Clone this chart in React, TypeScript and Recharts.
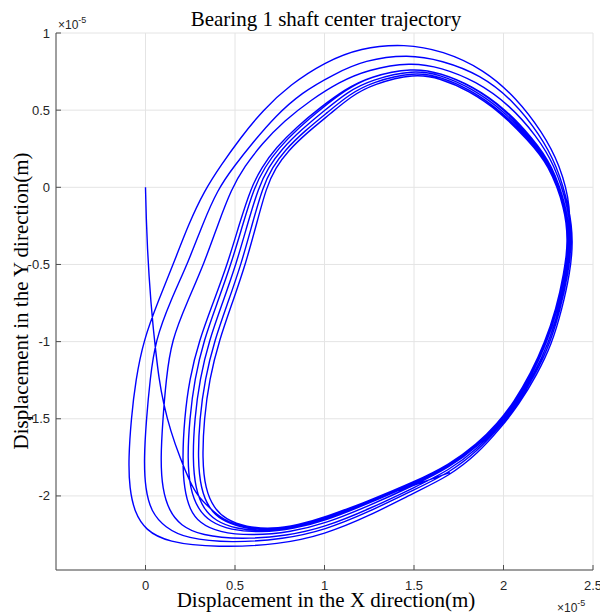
import React from 'react';
import { LineChart, Line, XAxis, YAxis, CartesianGrid } from 'recharts';

// Axis settings (values in units of 1e-5 m)
const xTicks = [0, 0.5, 1, 1.5, 2, 2.5];
const yTicks = [-2, -1.5, -1, -0.5, 0, 0.5, 1];
const xDomain: [number, number] = [-0.5, 2.5];
const yDomain: [number, number] = [-2.48, 1];

// Trajectory, in drawing order (counter-clockwise whirl)
const startPath = [
  [0, 0], [0.004, -0.2], [0.011, -0.4], [0.02, -0.58], [0.03, -0.74], [0.042, -0.9], [0.056, -1.05],
  [0.075, -1.24], [0.1, -1.4], [0.14, -1.58], [0.195, -1.76], [0.245, -1.9], [0.29, -2.0], [0.36, -2.08],
  [0.43, -2.152], [0.54, -2.205], [0.7, -2.217], [0.85, -2.19], [1.0, -2.145], [1.25, -2.03], [1.5, -1.91],
  [1.698, -1.797], [1.855, -1.66], [1.963, -1.534], [2.058, -1.393], [2.153, -1.205], [2.231, -1.005],
  [2.293, -0.793], [2.338, -0.56], [2.36, -0.353],
];
const loop1 = [
  [2.38, -0.14], [2.315, 0.149], [2.215, 0.36], [2.075, 0.575], [1.89, 0.765], [1.66, 0.885], [1.45, 0.93],
  [1.2, 0.905], [1.0, 0.81], [0.81, 0.667], [0.654, 0.498], [0.53, 0.32], [0.42, 0.14], [0.33, -0.02], [0.24, -0.24],
  [0.162, -0.479], [0.073, -0.731], [-0.011, -0.99], [-0.055, -1.25], [-0.08, -1.5], [-0.095, -1.76], [-0.09, -1.95],
  [-0.06, -2.11], [0.0, -2.22], [0.12, -2.3], [0.4, -2.335], [0.75, -2.315], [1.0, -2.25], [1.25, -2.13], [1.5, -1.98],
  [1.698, -1.87], [1.855, -1.727], [1.986, -1.557], [2.085, -1.41], [2.186, -1.217], [2.27, -1.016], [2.326, -0.793],
  [2.371, -0.56], [2.39, -0.353],
];
const loop2 = [
  [2.37, -0.14], [2.297, 0.149], [2.2, 0.344], [2.062, 0.554], [1.87, 0.731], [1.655, 0.822],
  [1.469, 0.862], [1.223, 0.825], [1.051, 0.732], [0.871, 0.613], [0.724, 0.459], [0.604, 0.296], [0.495, 0.137],
  [0.402, -0.015], [0.319, -0.239], [0.24, -0.482], [0.14, -0.734], [0.055, -0.99], [0.025, -1.248], [0.005, -1.502],
  [-0.009, -1.761], [-0.001, -1.955], [0.032, -2.104], [0.109, -2.204], [0.227, -2.276], [0.476, -2.305],
  [0.776, -2.28], [1.0, -2.222], [1.25, -2.103], [1.5, -1.96], [1.698, -1.85], [1.855, -1.709], [1.98, -1.551],
  [2.078, -1.406], [2.177, -1.214], [2.26, -1.013], [2.317, -0.793], [2.362, -0.56], [2.382, -0.353],
];
const loop3 = [
  [2.364, -0.14], [2.285, 0.149], [2.184, 0.333], [2.037, 0.531], [1.844, 0.69], [1.652, 0.776],
  [1.483, 0.812], [1.24, 0.762], [1.083, 0.683], [0.924, 0.566], [0.774, 0.43], [0.65, 0.282], [0.553, 0.135],
  [0.48, -0.01], [0.405, -0.239], [0.33, -0.486], [0.235, -0.738], [0.145, -0.99], [0.115, -1.247], [0.097, -1.502],
  [0.084, -1.761], [0.094, -1.955], [0.132, -2.097], [0.195, -2.191], [0.311, -2.257], [0.535, -2.282],
  [0.794, -2.258], [1.0, -2.203], [1.25, -2.085], [1.5, -1.946], [1.698, -1.833], [1.855, -1.694], [1.975, -1.546],
  [2.072, -1.402], [2.17, -1.212], [2.251, -1.011], [2.31, -0.793], [2.355, -0.56], [2.375, -0.353],
];
const loop4 = [
  [2.356, -0.14], [2.271, 0.149], [2.162, 0.318], [2.012, 0.508], [1.824, 0.659], [1.649, 0.741],
  [1.493, 0.776], [1.252, 0.718], [1.115, 0.635], [0.977, 0.518], [0.844, 0.391], [0.728, 0.256], [0.65, 0.131],
  [0.589, -0.003], [0.524, -0.239], [0.46, -0.49], [0.38, -0.742], [0.3, -0.99], [0.245, -1.244], [0.217, -1.502],
  [0.206, -1.761], [0.216, -1.955], [0.247, -2.089], [0.301, -2.175], [0.407, -2.236], [0.597, -2.258],
  [0.814, -2.233], [1.0, -2.181], [1.25, -2.064], [1.5, -1.931], [1.698, -1.816], [1.855, -1.679], [1.97, -1.541],
  [2.066, -1.398], [2.162, -1.209], [2.242, -1.008], [2.302, -0.793], [2.347, -0.56], [2.368, -0.353],
];
const loop5 = [
  [2.352, -0.14], [2.264, 0.149], [2.156, 0.314], [2.008, 0.505], [1.823, 0.657], [1.649, 0.741],
  [1.493, 0.775], [1.252, 0.718], [1.118, 0.631], [0.985, 0.512], [0.855, 0.385], [0.742, 0.252], [0.666, 0.13],
  [0.607, -0.002], [0.544, -0.239], [0.48, -0.491], [0.403, -0.743], [0.326, -0.99], [0.274, -1.244], [0.246, -1.502],
  [0.234, -1.761], [0.249, -1.955], [0.293, -2.086], [0.36, -2.167], [0.472, -2.221], [0.648, -2.238],
  [0.831, -2.212], [1.0, -2.163], [1.25, -2.047], [1.5, -1.921], [1.698, -1.808], [1.855, -1.672], [1.968, -1.539],
  [2.063, -1.396], [2.158, -1.208], [2.238, -1.007], [2.298, -0.793], [2.343, -0.56], [2.365, -0.353],
];
const loop6 = [
  [2.35, -0.14], [2.26, 0.149], [2.15, 0.31], [2.0, 0.498], [1.816, 0.647], [1.648, 0.729],
  [1.497, 0.762], [1.26, 0.697], [1.13, 0.62], [1.0, 0.498], [0.872, 0.375], [0.76, 0.246], [0.687, 0.129],
  [0.631, 0.0], [0.57, -0.239], [0.508, -0.492], [0.432, -0.744], [0.356, -0.99], [0.303, -1.243], [0.274, -1.502],
  [0.263, -1.761], [0.279, -1.955], [0.324, -2.084], [0.391, -2.162], [0.503, -2.214], [0.67, -2.23],
  [0.838, -2.203], [1.0, -2.155], [1.25, -2.04], [1.5, -1.916], [1.698, -1.803], [1.855, -1.667], [1.966, -1.537],
  [2.061, -1.395], [2.156, -1.207], [2.235, -1.006], [2.296, -0.793], [2.341, -0.56], [2.363, -0.353],
];
const loop7 = [
  [2.348, -0.14], [2.256, 0.149], [2.144, 0.306], [1.992, 0.491], [1.809, 0.637], [1.647, 0.717],
  [1.501, 0.749], [1.265, 0.682], [1.14, 0.603], [1.015, 0.484], [0.889, 0.365], [0.778, 0.24], [0.708, 0.128],
  [0.655, 0.002], [0.596, -0.239], [0.536, -0.493], [0.461, -0.745], [0.386, -0.99], [0.332, -1.242], [0.302, -1.502],
  [0.292, -1.761], [0.309, -1.955], [0.355, -2.082], [0.422, -2.157], [0.534, -2.207], [0.692, -2.222],
  [0.845, -2.194], [1.0, -2.147], [1.25, -2.033], [1.5, -1.911], [1.698, -1.798], [1.855, -1.662], [1.964, -1.535],
  [2.059, -1.394], [2.154, -1.206], [2.232, -1.005], [2.294, -0.793], [2.339, -0.56], [2.361, -0.353],
];
const loop8 = [
  [2.345, -0.14], [2.252, 0.149], [2.138, 0.303], [1.985, 0.486], [1.803, 0.629], [1.646, 0.706],
  [1.504, 0.738], [1.27, 0.668], [1.149, 0.59], [1.029, 0.473], [0.905, 0.357], [0.795, 0.235], [0.727, 0.127],
  [0.676, 0.003], [0.62, -0.239], [0.56, -0.494], [0.486, -0.746], [0.412, -0.99], [0.357, -1.242], [0.327, -1.502],
  [0.317, -1.761], [0.334, -1.955], [0.382, -2.08], [0.45, -2.153], [0.56, -2.201], [0.71, -2.215],
  [0.851, -2.187], [1.0, -2.141], [1.25, -2.027], [1.5, -1.932], [1.7, -1.848],
];

const trajectory = [startPath, loop1, loop2, loop3, loop4, loop5, loop6, loop7, loop8]
  .flat()
  .map(([x, y]) => ({ x, y }));

const AXIS = '#4d4d4d';
const TXT = '#262626';
const SANS = '"Liberation Sans", Arial, Helvetica, sans-serif';
const SERIF = '"Liberation Serif", "Times New Roman", serif';

const fmt = (v: number) => String(v);

const BottomTick = (props: any) => {
  const { x, y, payload } = props;
  return (
    <g>
      <line x1={x} y1={y} x2={x} y2={y - 5} stroke={AXIS} strokeWidth={1} />
      <text x={x} y={y + 20} textAnchor="middle" fontSize={13} fill={TXT} fontFamily={SANS}>
        {fmt(payload.value)}
      </text>
    </g>
  );
};
const TopTick = (props: any) => {
  const { x, y } = props;
  return <line x1={x} y1={y} x2={x} y2={y + 5} stroke={AXIS} strokeWidth={1} />;
};
const LeftTick = (props: any) => {
  const { x, y, payload } = props;
  return (
    <g>
      <line x1={x} y1={y} x2={x + 5} y2={y} stroke={AXIS} strokeWidth={1} />
      <text x={x - 6} y={y + 4.5} textAnchor="end" fontSize={13} fill={TXT} fontFamily={SANS}>
        {fmt(payload.value)}
      </text>
    </g>
  );
};
const RightTick = (props: any) => {
  const { x, y } = props;
  return <line x1={x} y1={y} x2={x - 5} y2={y} stroke={AXIS} strokeWidth={1} />;
};

export default function App() {
  return (
    <div style={{ position: 'absolute', left: 0, top: 0, width: 600, height: 614, background: '#fff' }}>
      <LineChart
        width={600}
        height={614}
        data={trajectory}
        margin={{ top: 33, right: 7, bottom: 14, left: 16 }}
      >
        <CartesianGrid stroke="#e4e4e4" strokeWidth={1} />
        <XAxis
          dataKey="x"
          type="number"
          domain={xDomain}
          ticks={xTicks}
          allowDataOverflow
          interval={0}
          height={30}
          tickSize={0}
          tickMargin={0}
          tickLine={false}
          axisLine={{ stroke: AXIS, strokeWidth: 1 }}
          tick={BottomTick}
        />
        <XAxis
          xAxisId="top"
          orientation="top"
          type="number"
          domain={xDomain}
          ticks={xTicks}
          allowDataOverflow
          interval={0}
          height={0}
          tickSize={0}
          tickMargin={0}
          tickLine={false}
          axisLine={{ stroke: AXIS, strokeWidth: 1 }}
          tick={TopTick}
        />
        <YAxis
          type="number"
          domain={yDomain}
          ticks={yTicks}
          allowDataOverflow
          interval={0}
          width={40}
          tickSize={0}
          tickMargin={0}
          tickLine={false}
          axisLine={{ stroke: AXIS, strokeWidth: 1 }}
          tick={LeftTick}
        />
        <YAxis
          yAxisId="right"
          orientation="right"
          type="number"
          domain={yDomain}
          ticks={yTicks}
          allowDataOverflow
          interval={0}
          width={0}
          tickSize={0}
          tickMargin={0}
          tickLine={false}
          axisLine={{ stroke: AXIS, strokeWidth: 1 }}
          tick={RightTick}
        />
        <Line
          dataKey="y"
          type="basis"
          stroke="#0000ff"
          strokeWidth={1.4}
          dot={false}
          activeDot={false}
          isAnimationActive={false}
        />
      </LineChart>
      <svg
        width={600}
        height={614}
        style={{ position: 'absolute', left: 0, top: 0, pointerEvents: 'none' }}
      >
        <text x={326} y={26} textAnchor="middle" fontFamily={SERIF} fontSize={21} fill="#000">
          Bearing 1 shaft center trajectory
        </text>
        <text x={326} y={607} textAnchor="middle" fontFamily={SERIF} fontSize={21} fill="#000">
          Displacement in the X direction(m)
        </text>
        <text
          x={0}
          y={0}
          transform="translate(28,301) rotate(-90)"
          textAnchor="middle"
          fontFamily={SERIF}
          fontSize={21}
          fill="#000"
        >
          Displacement in the Y direction(m)
        </text>
        <text x={58} y={29} fontFamily={SANS} fontSize={12} fill={TXT}>
          ×10
          <tspan dy={-6} fontSize={9}>-5</tspan>
        </text>
        <text x={557} y={612} fontFamily={SANS} fontSize={12} fill={TXT}>
          ×10
          <tspan dy={-6} fontSize={9}>-5</tspan>
        </text>
      </svg>
    </div>
  );
}
